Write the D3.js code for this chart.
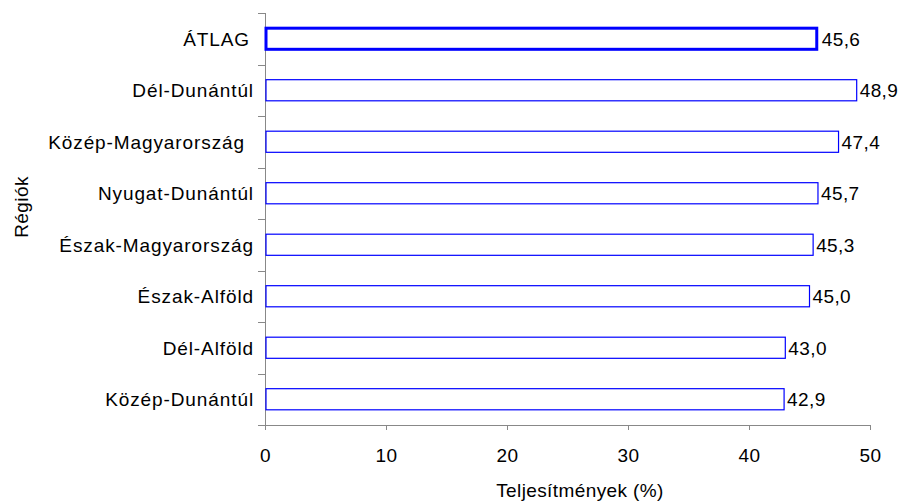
<!DOCTYPE html>
<html>
<head>
<meta charset="utf-8">
<script src="https://cdn.jsdelivr.net/npm/d3@7"></script>
<style>
  html, body { margin: 0; padding: 0; background: #fff; }
  svg { display: block; font-family: "Liberation Sans", Arial, sans-serif; }
  svg text { font-size: 19px; letter-spacing: 0.4px; fill: #000; }
  svg text.category { letter-spacing: 0.9px; }
</style>
</head>
<body>
<svg id="chart" width="900" height="501"></svg>
<script>
// Regions, top to bottom, and their performance values (%)
const regions = ["ÁTLAG", "Dél-Dunántúl", "Közép-Magyarország", "Nyugat-Dunántúl",
                 "Észak-Magyarország", "Észak-Alföld", "Dél-Alföld", "Közép-Dunántúl"];
const values = [45.6, 48.9, 47.4, 45.7, 45.3, 45.0, 43.0, 42.9];
const xTicks = [0, 10, 20, 30, 40, 50];
const averageLabel = "ÁTLAG";

const svg = d3.select("#chart");
const margin = { left: 265, right: 30, top: 13, bottom: 76 };
const height = 501;
const plotBottom = height - margin.bottom;

const x = d3.scaleLinear().domain([0, 50]).range([margin.left, 870]);
const y = d3.scaleBand().domain(regions).range([margin.top, plotBottom])
  .paddingInner(0.59).paddingOuter(0.295);

const axisColor = "#888";
const barColor = "#0000ff";
const fmt = v => d3.format(".1f")(v).replace(".", ",");

// Category boundary ticks on the vertical axis
const bandStep = (plotBottom - margin.top) / regions.length;
const boundaries = d3.range(regions.length + 1).map(i => margin.top + i * bandStep);
svg.append("g").selectAll("line").data(boundaries).join("line")
  .attr("x1", margin.left - 7).attr("x2", margin.left)
  .attr("y1", d => Math.round(d) + 0.5).attr("y2", d => Math.round(d) + 0.5)
  .attr("stroke", axisColor).attr("stroke-width", 1);
svg.append("line")
  .attr("x1", margin.left + 0.5).attr("x2", margin.left + 0.5)
  .attr("y1", margin.top).attr("y2", plotBottom)
  .attr("stroke", axisColor);

// Horizontal value axis
const xAxis = svg.append("g")
  .attr("transform", `translate(0,${plotBottom})`)
  .call(d3.axisBottom(x).tickValues(xTicks).tickSize(5).tickFormat(d3.format("d")));
xAxis.attr("font-size", null).attr("font-family", null);
xAxis.select(".domain").attr("stroke", axisColor);
xAxis.selectAll(".tick line").attr("stroke", axisColor);
xAxis.selectAll("text").attr("y", 37).attr("dy", null).attr("fill", "#000");

// Bars
svg.append("g").selectAll("rect").data(regions).join("rect")
  .attr("x", d => x(0) + 1)
  .attr("y", d => y(d))
  .attr("width", (d, i) => x(values[i]) - x(0) - 1)
  .attr("height", y.bandwidth())
  .attr("fill", "#fff")
  .attr("stroke", barColor)
  .attr("stroke-width", d => d === averageLabel ? 3 : 1.2);

// Value labels
svg.append("g").selectAll("text").data(regions).join("text")
  .attr("x", (d, i) => x(values[i]) + (regions[i] === averageLabel ? 5 : 3))
  .attr("y", d => y(d) + y.bandwidth() / 2)
  .attr("dy", "0.36em")
  .text((d, i) => fmt(values[i]));

// Category labels
const labelEnd = { "ÁTLAG": 250, "Közép-Magyarország": 245 };
svg.append("g").selectAll("text").data(regions).join("text")
  .attr("class", "category")
  .attr("x", d => labelEnd[d] || 254)
  .attr("y", d => y(d) + y.bandwidth() / 2)
  .attr("dy", "0.36em")
  .attr("text-anchor", "end")
  .text(d => d);

// Axis titles
svg.append("text")
  .attr("x", 580).attr("y", 497)
  .attr("text-anchor", "middle")
  .text("Teljesítmények (%)");
svg.append("text")
  .attr("transform", "translate(28,207) rotate(-90)")
  .attr("text-anchor", "middle")
  .text("Régiók");
</script>
</body>
</html>
